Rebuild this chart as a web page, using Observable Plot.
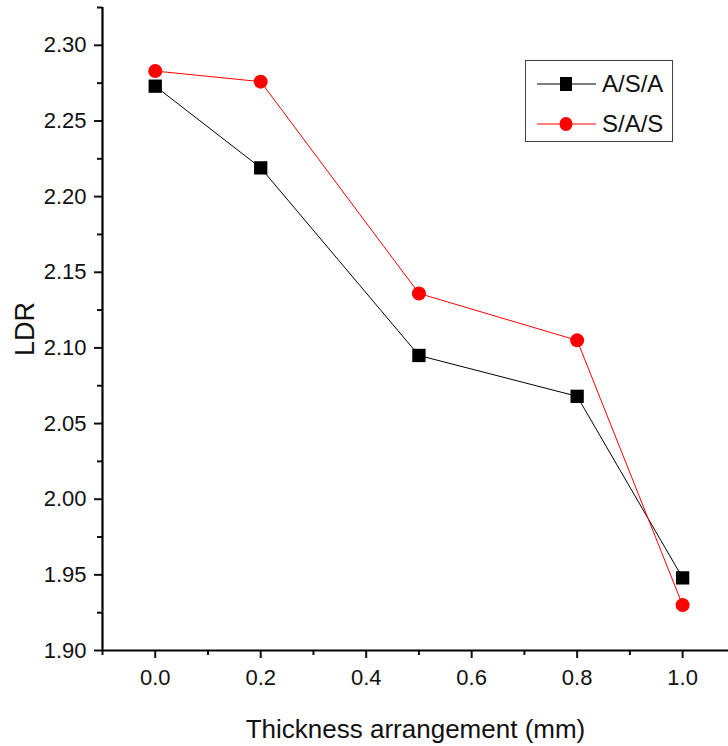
<!DOCTYPE html>
<html>
<head>
<meta charset="utf-8">
<script src="https://cdn.jsdelivr.net/npm/d3@7"></script>
<script src="https://cdn.jsdelivr.net/npm/@observablehq/plot@0.6"></script>
<style>
  html, body { margin: 0; padding: 0; background: #fff; }
  #wrap { position: relative; width: 728px; height: 746px; font-family: "Liberation Sans", Arial, sans-serif; }
  #legend { position: absolute; left: 525px; top: 60px; width: 148px; height: 82px; border: 1px solid #444; background: #fff; box-sizing: border-box; }
  #legend .row { position: absolute; left: 0; height: 30px; display: flex; align-items: center; }
  #legend .lab { font-size: 24px; color: #111; margin-left: 5px; }
</style>
</head>
<body>
<div id="wrap"></div>
<script>
const thickness = [0.0, 0.2, 0.5, 0.8, 1.0];
const asaValues = [2.273, 2.219, 2.095, 2.068, 1.948];
const sasValues = [2.283, 2.276, 2.136, 2.105, 1.930];
const seriesNames = ["A/S/A", "S/A/S"];
const seriesColors = ["#000000", "#ff0000"];
const yMajor = [1.90, 1.95, 2.00, 2.05, 2.10, 2.15, 2.20, 2.25, 2.30];
const yMinor = [1.925, 1.975, 2.025, 2.075, 2.125, 2.175, 2.225, 2.275, 2.325];
const xMajor = [0.0, 0.2, 0.4, 0.6, 0.8, 1.0];
const xMinor = [-0.1, 0.1, 0.3, 0.5, 0.7, 0.9];

const asa = thickness.map((t, i) => ({x: t, y: asaValues[i]}));
const sas = thickness.map((t, i) => ({x: t, y: sasValues[i]}));

const font = "'Liberation Sans', Arial, sans-serif";
const chart = Plot.plot({
  width: 728,
  height: 746,
  marginLeft: 102,
  marginRight: 0,
  marginTop: 7,
  marginBottom: 96,
  style: {fontFamily: font, background: "#fff", color: "#111"},
  x: {domain: [-0.1, 1.087]},
  y: {domain: [1.9, 2.325]},
  marks: [
    Plot.axisY({ticks: yMajor, tickSize: 8, tickPadding: 8, tickFormat: d3.format(".2f"), fontSize: 22, strokeWidth: 2, label: null}),
    Plot.axisY({ticks: yMinor, tickSize: 5, text: null, strokeWidth: 2, label: null}),
    Plot.axisX({ticks: xMajor, tickSize: 8, tickPadding: 11, tickFormat: d3.format(".1f"), fontSize: 22, strokeWidth: 2, label: null}),
    Plot.axisX({ticks: xMinor, tickSize: 5, text: null, strokeWidth: 2, label: null}),
    Plot.ruleX([-0.1], {stroke: "#000", strokeWidth: 2.2}),
    Plot.ruleY([1.9], {stroke: "#000", strokeWidth: 2.2}),
    Plot.text(["LDR"], {frameAnchor: "left", dx: -77, rotate: -90, textAnchor: "middle", lineAnchor: "middle", fontSize: 27, fill: "#111"}),
    Plot.text(["Thickness arrangement (mm)"], {frameAnchor: "bottom", dy: 79, textAnchor: "middle", lineAnchor: "middle", fontSize: 26, fill: "#111"}),
    Plot.line(asa, {x: "x", y: "y", stroke: seriesColors[0], strokeWidth: 1}),
    Plot.line(sas, {x: "x", y: "y", stroke: seriesColors[1], strokeWidth: 1}),
    Plot.dot(asa, {x: "x", y: "y", symbol: "square", r: 7.5, fill: seriesColors[0], stroke: "none"}),
    Plot.dot(sas, {x: "x", y: "y", symbol: "circle", r: 7, fill: seriesColors[1], stroke: "none"})
  ]
});
const wrap = document.getElementById("wrap");
wrap.appendChild(chart);

const legend = document.createElement("div");
legend.id = "legend";
seriesNames.forEach((name, i) => {
  const row = document.createElement("div");
  row.className = "row";
  row.style.top = (i === 0 ? 8 : 48) + "px";
  const marker = i === 0
    ? `<rect x="34" y="8" width="12" height="14" fill="${seriesColors[i]}"/>`
    : `<ellipse cx="40" cy="15" rx="6.5" ry="7" fill="${seriesColors[i]}"/>`;
  row.innerHTML = `<svg width="71" height="30"><line x1="11" x2="70" y1="15" y2="15" stroke="${seriesColors[i]}" stroke-width="1"/>${marker}</svg><span class="lab">${name}</span>`;
  legend.appendChild(row);
});
wrap.appendChild(legend);
</script>
</body>
</html>
